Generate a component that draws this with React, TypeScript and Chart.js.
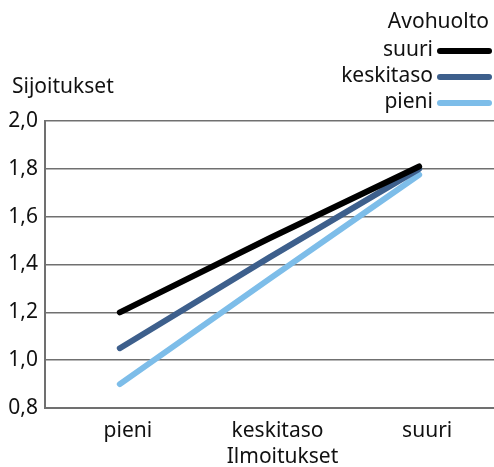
import React, { useEffect, useRef } from "react";
import { Chart, registerables } from "chart.js";
Chart.register(...registerables);

const categories = ["pieni", "keskitaso", "suuri"];
const seriesNames = ["suuri", "keskitaso", "pieni"];
const suuriValues = [1.2, 1.51, 1.81];
const keskitasoValues = [1.05, 1.43, 1.8];
const pieniValues = [0.9, 1.34, 1.775];
const seriesColors = ["#000000", "#3d5f8c", "#7dbde9"];
const legendTitle = "Avohuolto";
const yTitle = "Sijoitukset";
const xTitle = "Ilmoitukset";

const FONT = "'Noto Sans', sans-serif";
const FS = 21;

export default function App() {
  const ref = useRef<HTMLCanvasElement>(null);
  useEffect(() => {
    const values = [suuriValues, keskitasoValues, pieniValues];
    const overlay = {
      id: "overlay",
      afterDraw(chart: any) {
        const ctx = chart.ctx;
        ctx.save();
        ctx.fillStyle = "#111";
        ctx.font = `${FS}px ${FONT}`;
        ctx.textBaseline = "middle";
        ctx.textAlign = "right";
        ctx.fillText(legendTitle, 489, 22);
        const rowsY = [50, 76, 102];
        seriesNames.forEach((n, i) => {
          ctx.textAlign = "right";
          ctx.fillStyle = "#111";
          ctx.fillText(n, 433, rowsY[i]);
          ctx.strokeStyle = seriesColors[i];
          ctx.lineWidth = 6;
          ctx.lineCap = "round";
          ctx.beginPath();
          ctx.moveTo(440, rowsY[i] + 1);
          ctx.lineTo(489, rowsY[i] + 1);
          ctx.stroke();
        });
        ctx.textAlign = "left";
        ctx.fillStyle = "#111";
        ctx.fillText(yTitle, 12, 87);
        ctx.textAlign = "center";
        const xa = chart.scales.x;
        ctx.fillText(xTitle, xa.getPixelForValue(1) + 13, 457);
        ctx.restore();
      },
    };
    const chart = new Chart(ref.current!, {
      type: "line",
      data: {
        labels: categories,
        datasets: seriesNames.map((n, i) => ({
          label: n,
          data: values[i],
          borderColor: seriesColors[i],
          backgroundColor: seriesColors[i],
          borderWidth: 6,
          borderCapStyle: "round",
          pointRadius: 0,
          tension: 0,
        })),
      },
      options: {
        animation: false,
        responsive: false,
        layout: { padding: { top: 121, right: 0, left: 0, bottom: 0 } },
        plugins: { legend: { display: false }, tooltip: { enabled: false } },
        scales: {
          x: {
            offset: true,
            grid: { display: false, drawTicks: false },
            border: { display: true, color: "#707070", width: 2 },
            ticks: {
              color: "#111",
              font: { size: FS, family: FONT },
              padding: 10,
              labelOffset: 8,
            },
            afterFit(s: any) {
              s.height = 59;
            },
          },
          y: {
            min: 0.8,
            max: 2.0,
            grid: { color: "#707070", lineWidth: 1.5, drawTicks: false },
            border: { display: true, color: "#707070", width: 2 },
            ticks: {
              stepSize: 0.2,
              color: "#111",
              font: { size: FS, family: FONT },
              padding: 7,
              callback: (v: any) => Number(v).toFixed(1).replace(".", ","),
            },
            afterFit(s: any) {
              s.width = 45;
            },
          },
        },
      },
      plugins: [overlay],
    });
    return () => chart.destroy();
  }, []);
  return (
    <div style={{ position: "absolute", left: 0, top: 0, width: 494, height: 467, background: "#fff" }}>
      <canvas ref={ref} width={494} height={467} style={{ width: 494, height: 467 }} />
    </div>
  );
}
